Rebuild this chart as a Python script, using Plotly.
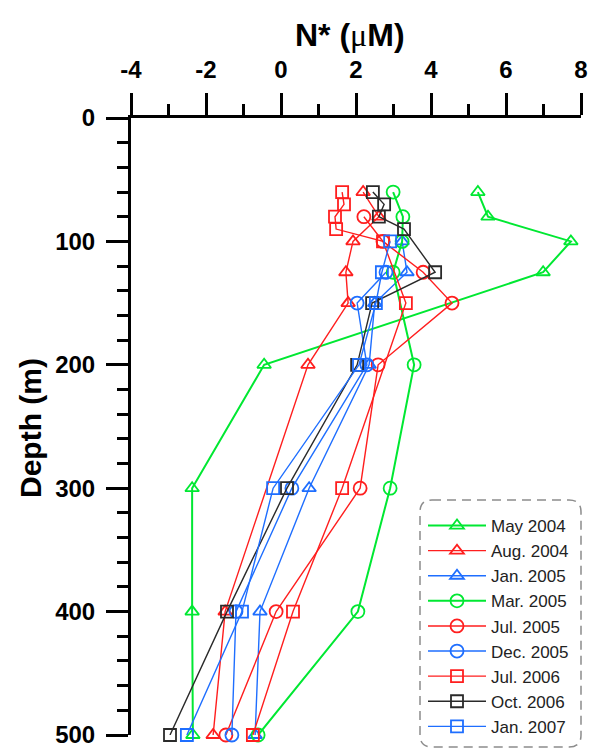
import plotly.graph_objects as go

# ---------------- data ----------------
series_names = ["May 2004", "Aug. 2004", "Jan. 2005", "Mar. 2005", "Jul. 2005",
                "Dec. 2005", "Jul. 2006", "Oct. 2006", "Jan. 2007"]

may2004_depth = [60, 80, 100, 125, 200, 300, 400, 500]
may2004_nstar = [5.25, 5.52, 7.73, 6.99, -0.45, -2.37, -2.37, -2.35]

aug2004_depth = [60, 80, 100, 125, 150, 200, 400, 500]
aug2004_nstar = [2.19, 2.61, 1.92, 1.73, 1.79, 0.72, -1.49, -1.81]

jan2005_depth = [100, 125, 150, 200, 300, 400, 500]
jan2005_nstar = [3.23, 3.36, 2.50, 2.35, 0.75, -0.56, -0.69]

mar2005_depth = [60, 80, 100, 125, 200, 300, 400, 500]
mar2005_nstar = [2.99, 3.25, 3.23, 2.99, 3.55, 2.91, 2.05, -0.61]

jul2005_depth = [80, 100, 125, 150, 200, 300, 400, 500]
jul2005_nstar = [2.21, 2.72, 3.79, 4.56, 2.59, 2.11, -0.13, -1.47]

dec2005_depth = [125, 150, 200, 300, 400, 500]
dec2005_nstar = [2.80, 2.03, 2.29, 0.29, -1.20, -1.31]

jul2006_depth = [60, 70, 80, 90, 100, 150, 300, 400, 500]
jul2006_nstar = [1.63, 1.68, 1.44, 1.47, 2.72, 3.33, 1.63, 0.32, -0.75]

oct2006_depth = [60, 70, 80, 90, 125, 150, 200, 300, 400, 500]
oct2006_nstar = [2.45, 2.75, 2.61, 3.28, 4.11, 2.43, 2.03, 0.16, -1.44, -2.96]

jan2007_depth = [100, 125, 150, 200, 300, 400, 500]
jan2007_nstar = [2.91, 2.69, 2.53, 2.08, -0.21, -1.04, -2.51]

x_ticks = [-4, -2, 0, 2, 4, 6, 8]
y_ticks = [0, 100, 200, 300, 400, 500]

# ---------------- styles ----------------
GREEN = "#00E832"
RED = "#FF1E1E"
BLUE = "#1E6EFF"
BLACK = "#2A2A2A"

styles = [
    (GREEN, "triangle-up-open", 2.0, 12),
    (RED, "triangle-up-open", 1.4, 12),
    (BLUE, "triangle-up-open", 1.4, 12),
    (GREEN, "circle-open", 2.0, 13),
    (RED, "circle-open", 1.4, 13),
    (BLUE, "circle-open", 1.4, 13),
    (RED, "square-open", 1.4, 12),
    (BLACK, "square-open", 1.4, 12),
    (BLUE, "square-open", 1.4, 12),
]

data = [
    (may2004_nstar, may2004_depth),
    (aug2004_nstar, aug2004_depth),
    (jan2005_nstar, jan2005_depth),
    (mar2005_nstar, mar2005_depth),
    (jul2005_nstar, jul2005_depth),
    (dec2005_nstar, dec2005_depth),
    (jul2006_nstar, jul2006_depth),
    (oct2006_nstar, oct2006_depth),
    (jan2007_nstar, jan2007_depth),
]

fig = go.Figure()
for name, (xs, ys), (col, sym, lw, ms) in zip(series_names, data, styles):
    fig.add_trace(go.Scatter(
        x=xs, y=ys, name=name, mode="lines+markers",
        line=dict(color=col, width=lw),
        marker=dict(symbol=sym, size=ms, color=col, line=dict(color=col, width=1.8)),
        cliponaxis=False,
    ))

W, H = 592, 749
L, R, T, B = 131, 11, 118, 14
pw, ph = W - L - R, H - T - B

def px_x(px):
    return (px - L) / pw

def px_y(py):
    return (H - B - py) / ph

# rounded dashed legend frame
x0, x1 = px_x(420), px_x(581)
y0, y1 = px_y(747), px_y(500)
rx, ry = 12 / pw, 12 / ph
path = (f"M {x0+rx},{y1} L {x1-rx},{y1} Q {x1},{y1} {x1},{y1-ry} "
        f"L {x1},{y0+ry} Q {x1},{y0} {x1-rx},{y0} L {x0+rx},{y0} "
        f"Q {x0},{y0} {x0},{y0+ry} L {x0},{y1-ry} Q {x0},{y1} {x0+rx},{y1} Z")

fig.update_layout(
    width=W, height=H,
    margin=dict(l=L, r=R, t=T, b=B, autoexpand=False),
    paper_bgcolor="white", plot_bgcolor="white",
    font=dict(family="Liberation Sans, Arial, sans-serif", color="black"),
    showlegend=True,
    legend=dict(
        x=px_x(423), y=px_y(508), xanchor="left", yanchor="top",
        bgcolor="rgba(0,0,0,0)", borderwidth=0,
        font=dict(size=17, color="#222222", family="Liberation Sans, Arial, sans-serif"),
        itemwidth=58,
    ),
    shapes=[dict(type="path", xref="paper", yref="paper", path=path,
                 line=dict(color="#8C8C8C", width=1.5, dash="9px,6px"),
                 fillcolor="rgba(0,0,0,0)", layer="below")],
    annotations=[
        dict(text="<b>N* (</b><span style=\"font-family:'Liberation Serif'\">μ</span><b>M)</b>",
             x=px_x(350), y=px_y(35), xref="paper", yref="paper",
             showarrow=False, font=dict(size=32, color="black"), xanchor="center", yanchor="middle"),
        dict(text="<b>Depth (m)</b>", x=px_x(30), y=px_y(428), xref="paper", yref="paper",
             showarrow=False, textangle=-90, font=dict(size=30, color="black"),
             xanchor="center", yanchor="middle"),
    ],
)

fig.update_xaxes(
    side="top", range=[-4, 8], tickvals=x_ticks, ticktext=[f"<b>{v}</b>" for v in x_ticks],
    showline=True, linewidth=3, linecolor="black", mirror=False,
    ticks="outside", ticklen=22, tickwidth=3, tickcolor="black",
    tickfont=dict(size=24, color="black"), ticklabelstandoff=5, ticklabeloverflow="allow",
    minor=dict(dtick=1, tick0=0, ticks="outside", ticklen=11, tickwidth=3, tickcolor="black"),
    showgrid=False, zeroline=False,
)
fig.update_yaxes(
    range=[500, 0], tickvals=y_ticks, ticktext=[f"<b>{v}</b>" for v in y_ticks],
    showline=True, linewidth=3, linecolor="black", mirror=False,
    ticks="outside", ticklen=22, tickwidth=3, tickcolor="black",
    tickfont=dict(size=24, color="black"), ticklabelstandoff=6, ticklabeloverflow="allow",
    minor=dict(dtick=20, tick0=0, ticks="outside", ticklen=11, tickwidth=3, tickcolor="black"),
    showgrid=False, zeroline=False,
)

fig.write_html("out.html")
